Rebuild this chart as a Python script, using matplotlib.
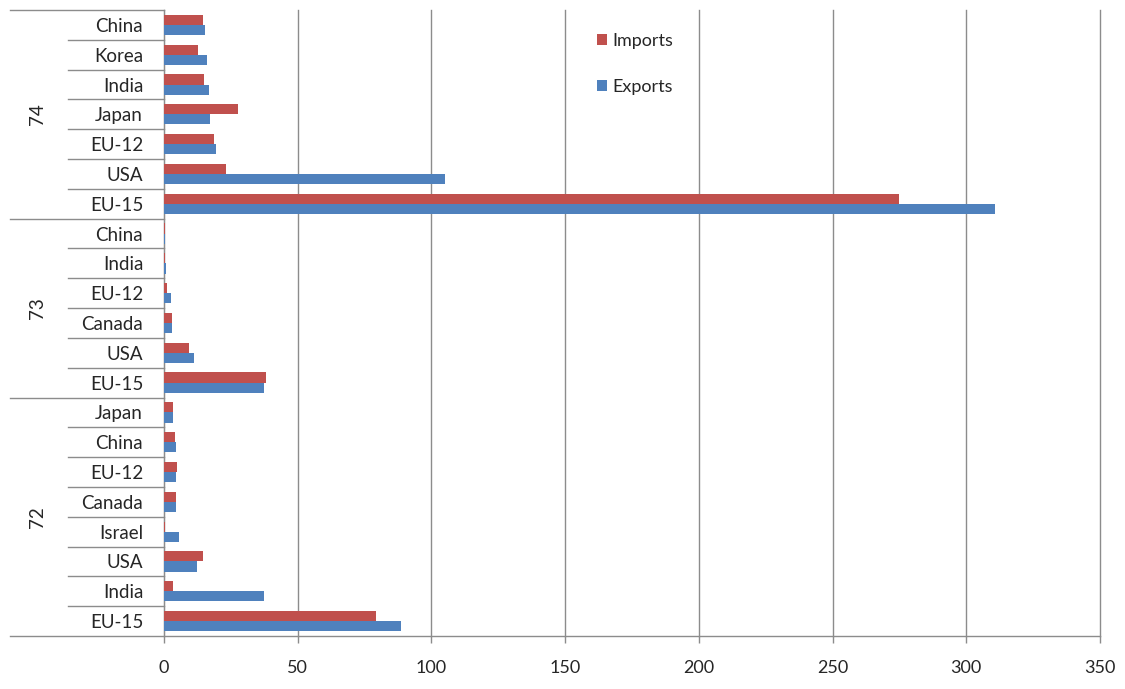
import matplotlib
matplotlib.use("Agg")
import matplotlib.pyplot as plt
import matplotlib.transforms as mtransforms
from matplotlib.patches import Patch
from matplotlib.lines import Line2D

# Trade values by chapter group (72, 73, 74) and partner
groups = ["72", "73", "74"]

countries_72 = ["EU-15", "India", "USA", "Israel", "Canada", "EU-12", "China", "Japan"]
imports_72 = [79.3, 3.3, 14.5, 0.3, 4.5, 5.0, 4.0, 3.5]
exports_72 = [88.6, 37.4, 12.3, 5.6, 4.5, 4.5, 4.4, 3.5]

countries_73 = ["EU-15", "USA", "Canada", "EU-12", "India", "China"]
imports_73 = [38.1, 9.3, 3.0, 1.2, 0.2, 0.2]
exports_73 = [37.4, 11.2, 3.0, 2.6, 0.8, 0.3]

countries_74 = ["EU-15", "USA", "EU-12", "Japan", "India", "Korea", "China"]
imports_74 = [274.9, 23.2, 18.7, 27.7, 15.0, 12.7, 14.6]
exports_74 = [310.8, 105.0, 19.4, 17.2, 16.8, 16.0, 15.3]

x_ticks = [0, 50, 100, 150, 200, 250, 300, 350]

RED = "#C0504D"
BLUE = "#4F81BD"
GRID = "#8C8C8C"
TEXT = "#262626"

plt.rcParams["font.family"] = ["Lato", "DejaVu Sans"]

W, H = 1125, 689
fig = plt.figure(figsize=(W / 100, H / 100), dpi=100)
left_px, right_px, top_px, bottom_px = 164, 1100, 10, 636
ax = fig.add_axes([left_px / W, 1 - bottom_px / H,
                   (right_px - left_px) / W, (bottom_px - top_px) / H])

all_countries = countries_72 + countries_73 + countries_74
all_imports = imports_72 + imports_73 + imports_74
all_exports = exports_72 + exports_73 + exports_74
sizes = [len(countries_72), len(countries_73), len(countries_74)]
n = len(all_countries)
ypos = list(range(n))

bh = 0.34
ax.barh([y + bh / 2 for y in ypos], all_imports, height=bh, color=RED, zorder=3)
ax.barh([y - bh / 2 for y in ypos], all_exports, height=bh, color=BLUE, zorder=3)

ax.set_xlim(0, 350)
ax.set_ylim(-0.5, n - 0.5)
ax.set_xticks(x_ticks)
ax.set_xticklabels([str(t) for t in x_ticks], fontsize=13, color=TEXT)
ax.tick_params(axis="x", length=5, width=1, color=GRID, pad=12, direction="out")
ax.set_yticks(ypos)
ax.set_yticklabels(all_countries, fontsize=13.5, color=TEXT, va="center_baseline")
ax.tick_params(axis="y", length=0, pad=15)

ax.grid(axis="x", color=GRID, linewidth=1, zorder=0)
for gl in ax.get_xgridlines():
    gl.set_clip_on(False)
for s in ["top", "right"]:
    ax.spines[s].set_visible(False)
ax.spines["left"].set_color(GRID)
ax.spines["bottom"].set_visible(False)

# Category separators in the label area
trans = mtransforms.blended_transform_factory(fig.transFigure, ax.transData)
boundaries = [-0.5]
for s in sizes:
    boundaries.append(boundaries[-1] + s)
group_edges = set(boundaries)
for k in range(n + 1):
    yb = k - 0.5
    x0 = 10 if yb in group_edges else 68
    x1 = right_px if yb == -0.5 else left_px
    ax.add_line(Line2D([x0 / W, x1 / W], [yb, yb], transform=trans,
                       color=GRID, linewidth=1, clip_on=False))

# Group labels
for g, lo, hi in zip(groups, boundaries[:-1], boundaries[1:]):
    ax.text(37 / W, (lo + hi) / 2, g, transform=trans, rotation=90,
            ha="center", va="center", fontsize=13.5, color=TEXT)

handles = [Patch(facecolor=RED, edgecolor="none", label="Imports"),
           Patch(facecolor=BLUE, edgecolor="none", label="Exports")]
fig.legend(handles=handles, loc="upper left",
           bbox_to_anchor=(588 / W, 1 - 24 / H), frameon=False,
           fontsize=13, handlelength=0.55, handleheight=0.55,
           handletextpad=0.3, labelspacing=1.65, borderpad=0,
           labelcolor=TEXT)

fig.savefig("out.png", dpi=100)
